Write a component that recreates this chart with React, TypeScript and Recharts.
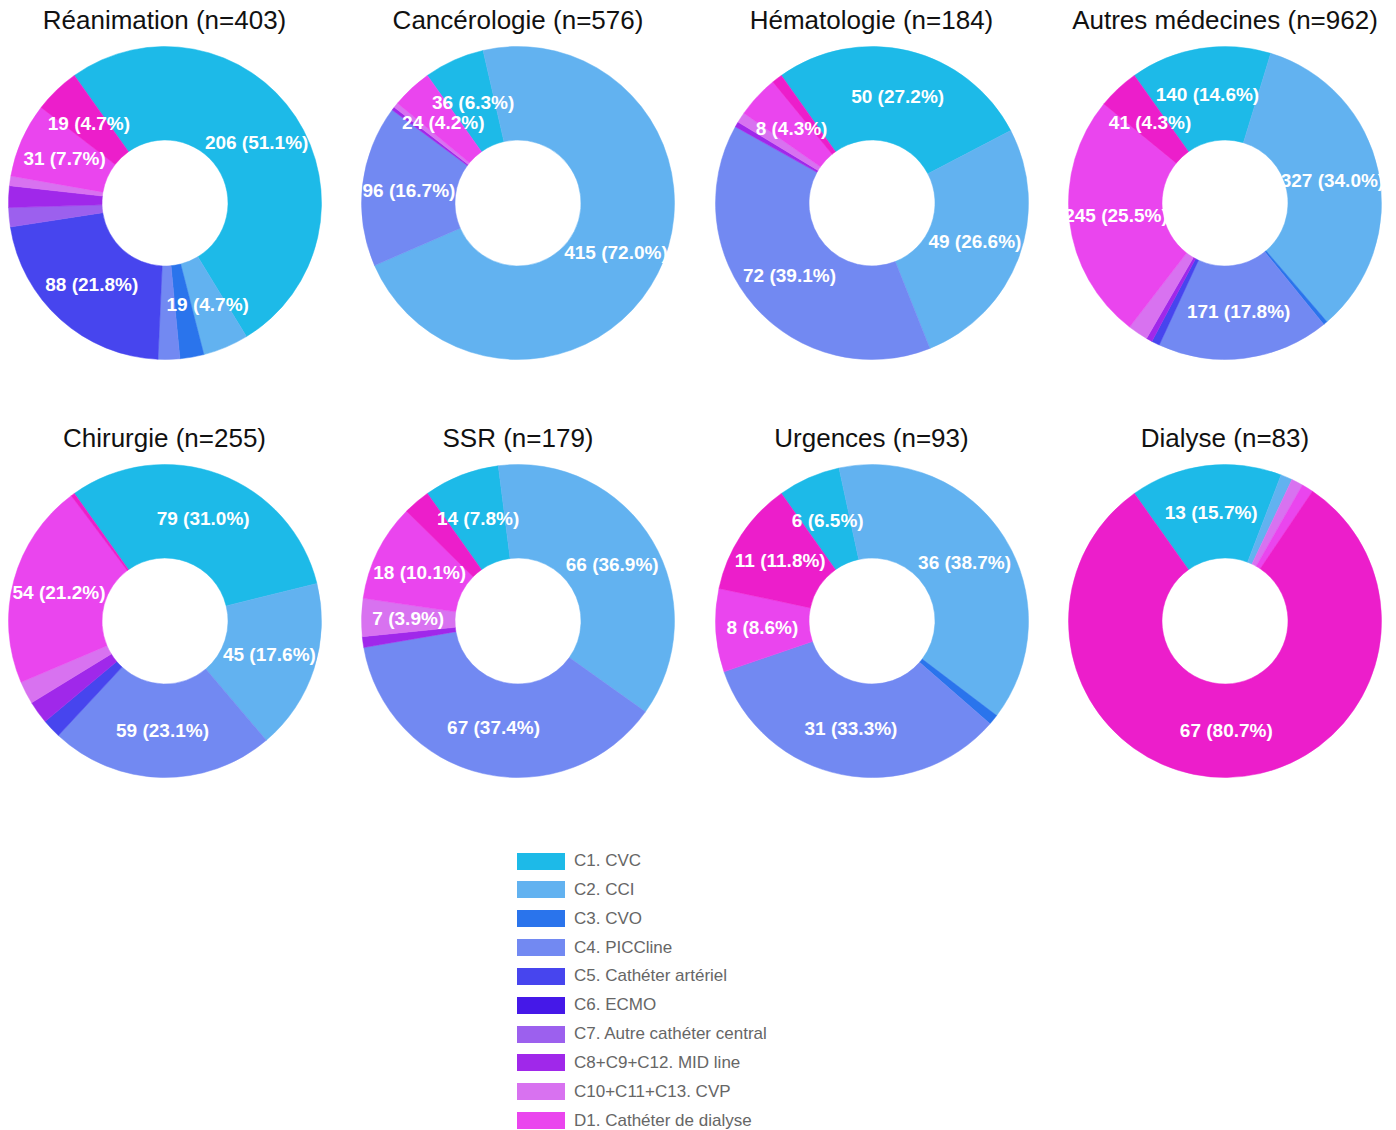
import { PieChart, Pie, Cell } from 'recharts'

const categories = [
  'C1. CVC',
  'C2. CCI',
  'C3. CVO',
  'C4. PICCline',
  'C5. Cathéter artériel',
  'C6. ECMO',
  'C7. Autre cathéter central',
  'C8+C9+C12. MID line',
  'C10+C11+C13. CVP',
  'D1. Cathéter de dialyse',
  'D2',
]

const colors = [
  '#1dbae8',
  '#62b2f0',
  '#2a74ec',
  '#7289f2',
  '#4745ee',
  '#4518e8',
  '#9c60ee',
  '#a028ea',
  '#d872f0',
  '#ea45ee',
  '#ec1ecb',
]

// nombre de cas par catégorie (même ordre que categories)
const reanimation = [206, 19, 10, 9, 88, 0, 8, 9, 4, 31, 19]
const cancerologie = [36, 415, 0, 96, 0, 0, 0, 2, 3, 24, 0]
const hematologie = [50, 49, 0, 72, 0, 0, 0, 1, 2, 8, 2]
const autresMedecines = [140, 327, 4, 171, 8, 0, 0, 6, 20, 245, 41]
const chirurgie = [79, 45, 0, 59, 5, 0, 0, 6, 6, 54, 1]
const ssr = [14, 66, 0, 67, 0, 0, 0, 2, 7, 18, 5]
const urgences = [6, 36, 1, 31, 0, 0, 0, 0, 0, 8, 11]
const dialyse = [13, 1, 0, 0, 0, 0, 0, 0, 1, 1, 67]

const services = ['Réanimation', 'Cancérologie', 'Hématologie', 'Autres médecines', 'Chirurgie', 'SSR', 'Urgences', 'Dialyse']
const serviceValues = [reanimation, cancerologie, hematologie, autresMedecines, chirurgie, ssr, urgences, dialyse]

const legendCount = 10

const SIZE = 316
const OUTER = 156.5
const INNER = 63
const RAD = Math.PI / 180

const renderLabel = (props: any) => {
  const { cx, cy, midAngle, innerRadius, outerRadius, percent, value } = props
  if (percent < 0.035) return null
  const r = (innerRadius + outerRadius) / 2
  const x = cx + r * Math.cos(-midAngle * RAD)
  const y = cy + r * Math.sin(-midAngle * RAD)
  return (
    <text
      x={x}
      y={y}
      fill="#fff"
      textAnchor="middle"
      dominantBaseline="central"
      style={{ fontSize: 19, fontWeight: 700, fontFamily: 'Helvetica, Arial, "Liberation Sans", sans-serif' }}
    >
      {`${value} (${(percent * 100).toFixed(1)}%)`}
    </text>
  )
}

function Donut({ title, values, col, row }: { title: string; values: number[]; col: number; row: number }) {
  const n = values.reduce((s, v) => s + v, 0)
  const data = categories
    .map((name, i) => ({ name, value: values[i], color: colors[i] }))
    .filter((d) => d.value > 0)
  const cx = 164.5 + 353.5 * col
  const cy = 202.5 + 418 * row
  return (
    <>
      <div
        style={{
          position: 'absolute',
          left: cx - 200,
          top: 6.7 + 418 * row,
          width: 400,
          textAlign: 'center',
          fontSize: 26,
          lineHeight: '26px',
          color: '#111',
          fontFamily: 'Helvetica, Arial, "Liberation Sans", sans-serif',
        }}
      >
        {`${title} (n=${n})`}
      </div>
      <div style={{ position: 'absolute', left: cx - SIZE / 2, top: cy - SIZE / 2 }}>
        <PieChart width={SIZE} height={SIZE} margin={{ top: 0, right: 0, bottom: 0, left: 0 }}>
          <Pie
            data={data}
            dataKey="value"
            nameKey="name"
            cx="50%"
            cy="50%"
            innerRadius={INNER}
            outerRadius={OUTER}
            startAngle={125.4}
            endAngle={-234.6}
            label={renderLabel}
            labelLine={false}
            isAnimationActive={false}
          >
            {data.map((d) => (
              <Cell key={d.name} fill={d.color} stroke={d.color} strokeWidth={0.5} />
            ))}
          </Pie>
        </PieChart>
      </div>
    </>
  )
}

export default function App() {
  return (
    <div style={{ position: 'relative', width: 1396, height: 1130, background: '#fff' }}>
      <style>{'body{margin:0;overflow:hidden}'}</style>
      {services.map((s, i) => (
        <Donut key={s} title={s} values={serviceValues[i]} col={i % 4} row={Math.floor(i / 4)} />
      ))}
      {categories.slice(0, legendCount).map((c, i) => (
        <div
          key={c}
          style={{
            position: 'absolute',
            left: 517,
            top: 852.5 + 28.85 * i,
            height: 17,
            display: 'flex',
            alignItems: 'center',
            fontFamily: 'Helvetica, Arial, "Liberation Sans", sans-serif',
            fontSize: 17,
            color: '#666',
            whiteSpace: 'nowrap',
          }}
        >
          <span style={{ display: 'inline-block', width: 48, height: 17, background: colors[i], marginRight: 9 }} />
          {c}
        </div>
      ))}
    </div>
  )
}
